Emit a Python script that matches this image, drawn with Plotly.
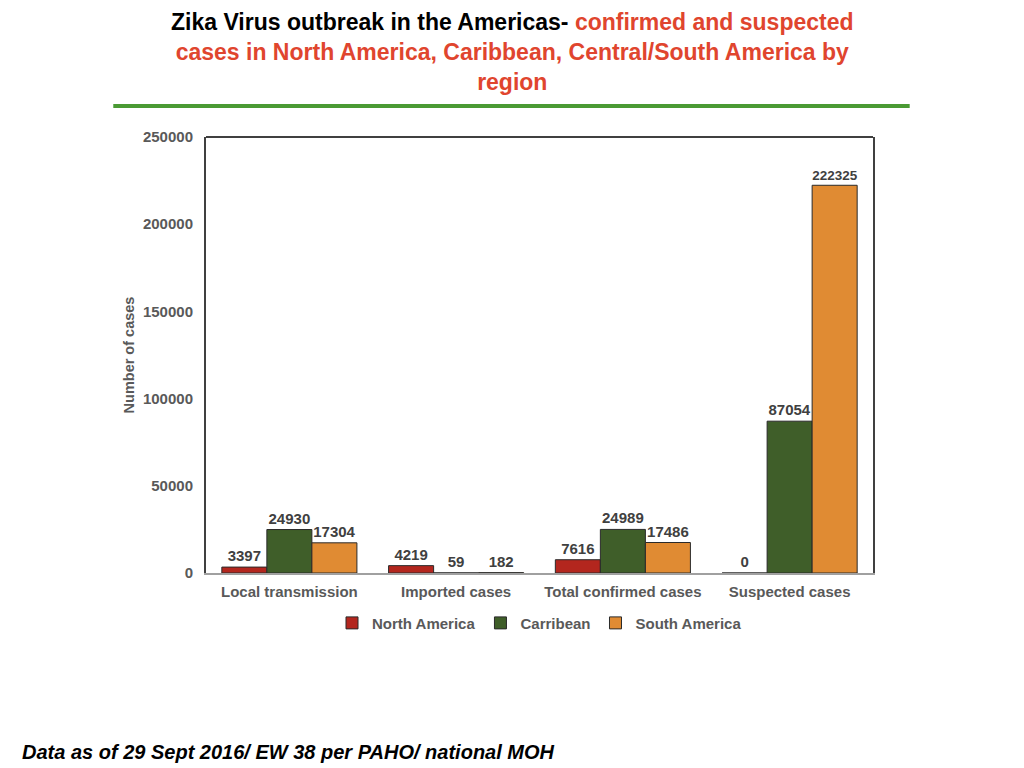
import plotly.graph_objects as go

# categories and series
categories = ["Local transmission", "Imported cases", "Total confirmed cases", "Suspected cases"]
north_america = [3397, 4219, 7616, 0]
carribean = [24930, 59, 24989, 87054]
south_america = [17304, 182, 17486, 222325]
y_ticks = [0, 50000, 100000, 150000, 200000, 250000]

series = [
    ("North America", north_america, "#B3261E"),
    ("Carribean", carribean, "#3F5E29"),
    ("South America", south_america, "#E08B33"),
]

fig = go.Figure()
for name, vals, col in series:
    fig.add_bar(
        x=categories, y=vals, name=name,
        marker=dict(color=col, line=dict(color="#2a2a2a", width=1)),
        text=[str(v) for v in vals], textposition="outside", cliponaxis=False,
        textfont=dict(size=15, color="#404040", family="Liberation Sans"),
    )

gray = "#595959"
fig.update_layout(
    width=1024, height=768,
    paper_bgcolor="white", plot_bgcolor="white",
    barmode="group", bargap=0.19, bargroupgap=0,
    margin=dict(l=198, r=159, t=129, b=203),
    font=dict(family="Liberation Sans", color=gray, size=15),
    showlegend=True,
    legend=dict(orientation="h", x=0.5, xanchor="center", y=-0.115, yanchor="middle",
                font=dict(size=15, color=gray), itemwidth=30, traceorder="normal"),
)
fig.update_yaxes(
    range=[0, 250000], tickvals=y_ticks, ticktext=[f"<b>{t}</b>" for t in y_ticks],
    showgrid=False, zeroline=False, showline=True, linecolor="#404040", linewidth=2,
    mirror=True, ticks="", tickfont=dict(size=15, color=gray), ticklabelstandoff=8,
    title=dict(text="<b>Number of cases</b>", font=dict(size=14.5, color=gray), standoff=5),
)
fig.update_xaxes(
    showgrid=False, showline=True, linecolor="#A0A0A0", linewidth=2, ticks="",
    tickvals=categories, ticktext=[f"<b>{c}</b>" for c in categories],
    tickfont=dict(size=15, color=gray), ticklabelstandoff=4,
)
fig.update_traces(texttemplate="<b>%{text}</b>")
fig.for_each_trace(lambda t: t.update(name=f"<b>{t.name}</b>"))

# top border of the plot area
fig.add_shape(type="line", xref="paper", yref="paper", x0=0, x1=1, y0=1, y1=1,
              line=dict(color="#404040", width=2))
# green rule under the title
fig.add_shape(type="line", xref="paper", yref="paper", x0=-0.139, x1=1.055, y0=1.071, y1=1.071,
              line=dict(color="#4A9A34", width=4))

fig.add_annotation(
    xref="paper", yref="paper", x=0.459, y=1.298, xanchor="center", yanchor="top",
    showarrow=False, align="center",
    text=("<b>Zika Virus outbreak in the Americas- <span style='color:#E0452E'>confirmed and suspected"
          "<br>cases in North America, Caribbean, Central/South America by<br>region</span></b>"),
    font=dict(size=23, color="black", family="Liberation Sans"),
)
fig.add_annotation(
    xref="paper", yref="paper", x=-0.279, y=-0.41, xanchor="left", yanchor="middle",
    showarrow=False, text="<b><i>Data as of 29 Sept 2016/ EW 38 per PAHO/ national MOH</i></b>",
    font=dict(size=20, color="black", family="Liberation Sans"),
)

fig.write_html("out.html")
